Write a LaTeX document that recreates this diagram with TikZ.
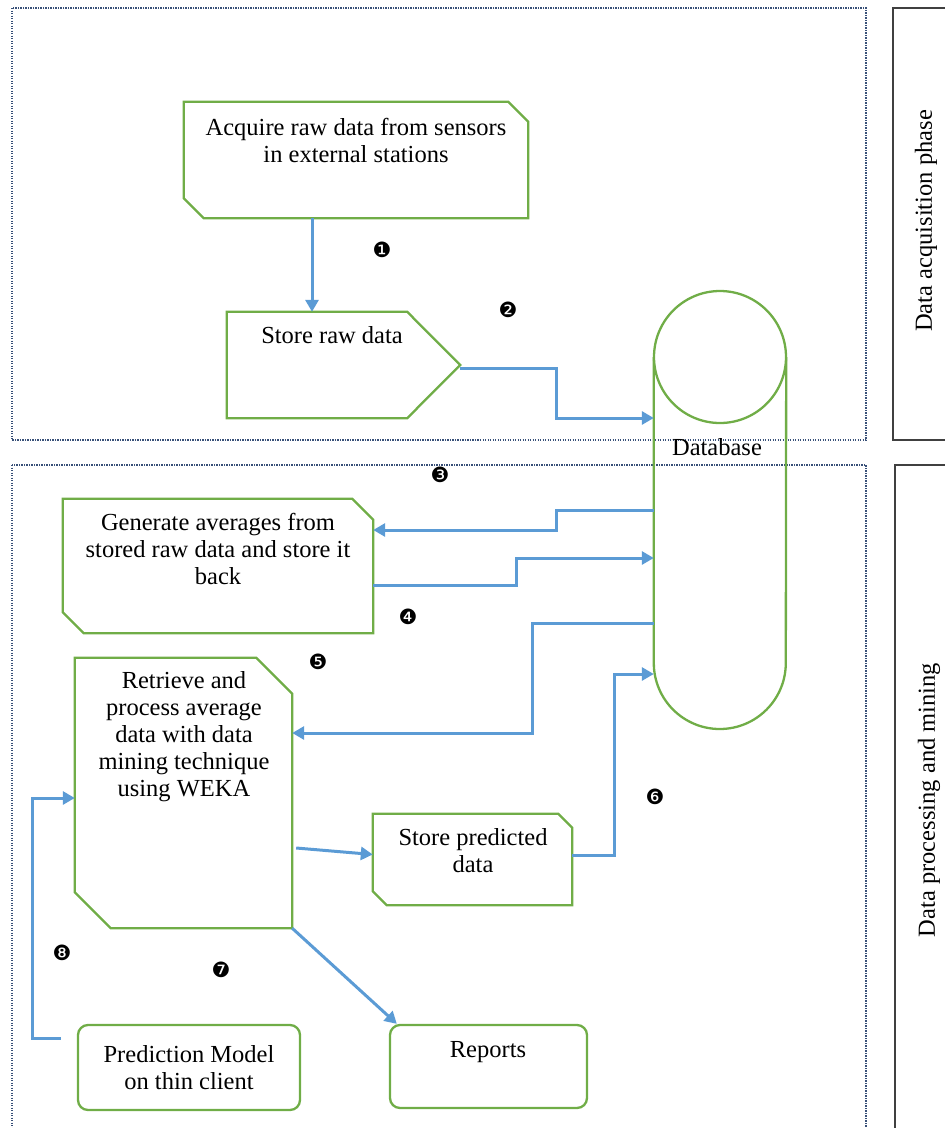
\documentclass[tikz,border=0pt]{standalone}
\usepackage{fontspec}
\setmainfont{Liberation Serif}
\newfontfamily\dingfont{DejaVu Sans}
\usetikzlibrary{arrows.meta}
\definecolor{boxgreen}{RGB}{112,173,71}
\definecolor{flowblue}{RGB}{91,155,213}
\definecolor{framegray}{RGB}{56,80,120}
\tikzset{
  shp/.style={draw=none, inner sep=0pt},
  edge/.style={draw=boxgreen, line width=2.3pt, line join=miter},
  flow/.style={draw=flowblue, line width=3pt, -{Triangle[length=12pt,width=13pt]}},
  txt/.style={align=center, inner sep=0pt, font=\fontsize{24.5}{27}\selectfont},
  num/.style={inner sep=0pt, font=\dingfont\fontsize{21}{21}\selectfont},
  frame/.style={draw=framegray, line width=1.4pt, dash pattern=on 1.2pt off 1.3pt},
  side/.style={draw=black!75, line width=1.3pt},
}
\newcommand{\cutbox}[2]{%
  \draw[edge] (#1.north west) -- ([xshift=-#2]#1.north east) -- ([yshift=-#2]#1.north east)
    -- (#1.south east) -- ([xshift=#2]#1.south west) -- ([yshift=#2]#1.south west) -- cycle;}
\begin{document}
\begin{tikzpicture}[x=1pt,y=-1pt]
\useasboundingbox (0,0) rectangle (945,1128);
% phases
\draw[frame] (12,8) rectangle (866,440);
\draw[frame] (12,465) rectangle (866,1140);
\draw[side] (893,8) rectangle (960,440);
\draw[side] (895,465) rectangle (960,1140);
\node[txt, rotate=90] (ph1) at (926,221) {Data acquisition phase};
\node[txt, rotate=90] (ph2) at (929,800) {Data processing and mining};
% acquisition
\node[shp, minimum width=344, minimum height=116] (acq) at (356,160) {};
\cutbox{acq}{20pt}
\node[txt] (acqt) at (356,140) {Acquire raw data from sensors\\in external stations};
\node[shp, minimum width=233, minimum height=106] (srd) at (343.5,365) {};
\draw[edge] (srd.north west) -- ([xshift=-53pt]srd.north east) -- (srd.east)
  -- ([xshift=-53pt]srd.south east) -- (srd.south west) -- cycle;
\node[txt] (srdt) at (332,335) {Store raw data};
% database
\node[shp, minimum width=132, minimum height=440] (db) at (720,511) {};
\draw[edge] (720,357) circle[radius=66];
\draw[edge] (db.west |- 0,357) -- (db.west |- 0,663) arc[start angle=180, end angle=0, radius=66]
  -- (db.east |- 0,357);
\node[txt] (dbt) at (717,447) {Database};
% processing
\node[shp, minimum width=310, minimum height=134] (gen) at (218,566) {};
\cutbox{gen}{21pt}
\node[txt] (gent) at (218,549) {Generate averages from\\stored raw data and store it\\back};
\node[shp, minimum width=217, minimum height=270] (ret) at (183.5,793) {};
\cutbox{ret}{36pt}
\node[txt] (rett) at (184,737) {Retrieve and\\process average\\data with data\\mining technique\\using WEKA};
\node[shp, minimum width=199, minimum height=91] (spd) at (472.5,859.5) {};
\cutbox{spd}{14pt}
\node[txt] (spdt) at (473,851) {Store predicted\\data};
\node[txt, edge, rounded corners=10pt, minimum width=222, minimum height=85] (pred) at (189,1067.5)
  {Prediction Model\\on thin client};
\node[shp, edge, rounded corners=10pt, minimum width=197, minimum height=83] (rep) at (488.5,1066.5) {};
\node[txt] (rept) at (488,1052) {Reports};
% flows
\draw[flow] ([xshift=-44pt]acq.south) -- ([xshift=-44pt]acq.south |- srd.north);
\draw[flow] ([yshift=-3pt]srd.east) -- ++(96,0) |- (db.west |- 0,418);
\draw[flow] (db.west |- 0,510) -- (556,510) |- ([yshift=36pt]gen.east);
\draw[flow] ([yshift=-19pt]gen.east) -| (516,558) -- (db.west |- 0,558);
\draw[flow] (db.west |- 0,623) -| (532,733) -- ([yshift=60pt]ret.east);
\draw[flow] ([xshift=4pt,yshift=-55pt]ret.east) -- ([yshift=5pt]spd.west);
\draw[flow] ([yshift=4pt]spd.east) -| (614,674) -- (db.west |- 0,674);
\draw[flow] (ret.south east) -- ([xshift=8pt]rep.north west);
\draw[flow] ([xshift=-16pt,yshift=29pt]pred.west) -| ([xshift=-42pt,yshift=-5pt]ret.west)
  -- ([yshift=-5pt]ret.west);
% steps
\node[num] (n1) at (382,250) {❶};
\node[num] (n2) at (508,310) {❷};
\node[num] (n3) at (440,475) {❸};
\node[num] (n4) at (408,617) {❹};
\node[num] (n5) at (318,662) {❺};
\node[num] (n6) at (655,797) {❻};
\node[num] (n7) at (221,970) {❼};
\node[num] (n8) at (62,953) {❽};
\end{tikzpicture}
\end{document}
